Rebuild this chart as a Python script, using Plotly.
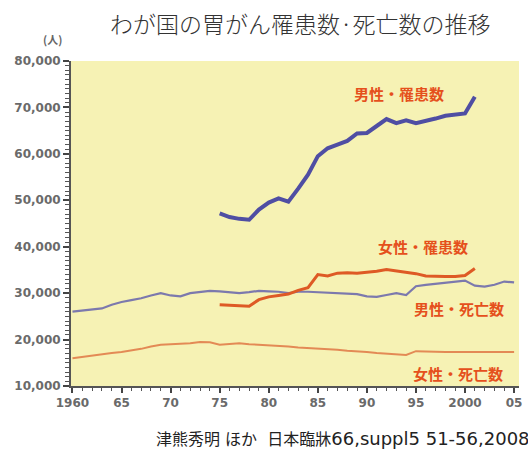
import plotly.graph_objects as go

years_all = list(range(1960, 2006))
years_inc = list(range(1975, 2002))

male_incidence = [47200, 46400, 46000, 45800, 48000, 49500, 50400, 49700, 52500, 55500,
                  59500, 61200, 62000, 62800, 64400, 64500, 66000, 67500, 66600, 67200,
                  66600, 67000, 67600, 68200, 68500, 68700, 72300]
female_incidence = [27500, 27400, 27200, 27200, 28600, 29200, 29500, 29800, 30600, 31200,
                    34000, 33700, 34300, 34400, 34300, 34500, 34700, 35100, 34800, 34600,
                    34200, 33700, 33600, 33600, 33600, 33800, 35300]
male_deaths = [26000, 26200, 26400, 26700, 27500, 28100, 28500, 28900, 29500, 30000,
               29500, 29300, 30000, 30300, 30500, 30400, 30200, 30000, 30200, 30500,
               30400, 30300, 30000, 30300, 30300, 30200, 30100, 30000, 29900, 29800,
               29300, 29200, 29600, 30000, 29600, 31500, 31800, 32000, 32300, 32500,
               32700, 31600, 31400, 31800, 32500, 32300]
female_deaths = [16000, 16300, 16600, 16900, 17100, 17300, 17600, 18000, 18500, 18900,
                 19000, 19100, 19200, 19500, 19400, 18900, 19000, 19200, 19000, 18900,
                 18800, 18600, 18500, 18300, 18200, 18100, 17900, 17800, 17600, 17500,
                 17300, 17100, 17000, 16800, 16700, 17500, 17500, 17400, 17300, 17300,
                 17200, 17200, 17200, 17200, 17300, 17300]

x_tickvals = [1960, 1965, 1970, 1975, 1980, 1985, 1990, 1995, 2000, 2005]
x_ticktext = ["1960", "65", "70", "75", "80", "85", "90", "95", "2000", "05"]

series_labels = ["男性・罹患数", "女性・罹患数", "男性・死亡数", "女性・死亡数"]
label_pos_x = [1993.3, 1995.7, 1999.4, 1999.3]
label_pos_y = [72900, 40000, 26600, 12800]

fig = go.Figure()
fig.add_trace(go.Scatter(x=years_all, y=male_deaths, mode="lines",
                         line=dict(color="#7c79ad", width=2.2), name=series_labels[2]))
fig.add_trace(go.Scatter(x=years_all, y=female_deaths, mode="lines",
                         line=dict(color="#e38a55", width=2), name=series_labels[3]))
fig.add_trace(go.Scatter(x=years_inc, y=female_incidence, mode="lines",
                         line=dict(color="#de5a25", width=3), name=series_labels[1]))
fig.add_trace(go.Scatter(x=years_inc, y=male_incidence, mode="lines",
                         line=dict(color="#4f4ea3", width=4), name=series_labels[0]))

label_font = dict(family="Noto Sans CJK JP", size=15, color="#e5501c", weight=700)
for txt, ax, ay in zip(series_labels, label_pos_x, label_pos_y):
    fig.add_annotation(x=ax, y=ay, text=txt, showarrow=False,
                       font=label_font, xref="x", yref="y")

fig.add_annotation(x=0.512, y=1.0, xref="paper", yref="paper", xanchor="center",
                   yanchor="middle", yshift=38, showarrow=False,
                   text="わが国の胃がん罹患数·死亡数の推移",
                   font=dict(family="Noto Sans CJK JP", size=23, color="#333333", weight=300))
fig.add_annotation(x=-0.042, y=1.0, xref="paper", yref="paper", xanchor="center",
                   yanchor="middle", yshift=22, showarrow=False, text="(人)",
                   font=dict(family="Noto Sans CJK JP", size=11, color="#666666", weight=700))
fig.add_annotation(x=(155 - 71) / 451, y=0.0, xref="paper", yref="paper", xanchor="left",
                   yanchor="middle", yshift=-52, showarrow=False,
                   text="津熊秀明 ほか\u00a0\u00a0日本臨牀<span style='font-size:18px'>66,suppl5 51-56,2008</span>",
                   font=dict(family="DejaVu Sans, Noto Sans CJK JP", size=16, color="#222222"))

tick_font = dict(family="DejaVu Sans", size=12, color="#6a6a6a", weight=700)
fig.update_layout(
    width=528, height=452,
    margin=dict(l=71, r=6, t=61, b=66),
    paper_bgcolor="white",
    plot_bgcolor="#f6f2b4",
    showlegend=False,
    xaxis=dict(range=[1959.85, 2005.5], tickmode="linear", tick0=1960, dtick=5,
               labelalias=dict(zip([str(v) for v in x_tickvals], x_ticktext)),
               showgrid=False, zeroline=False, showline=True, linecolor="#555555",
               linewidth=2, ticks="outside", ticklen=5, tickwidth=1.5, tickcolor="#444444",
               minor=dict(tickmode="linear", tick0=1960, dtick=1, ticks="outside",
                          ticklen=3, tickwidth=1.2, tickcolor="#555555", showgrid=False),
               tickfont=tick_font),
    yaxis=dict(range=[10000, 80000], tickmode="linear", tick0=10000, dtick=10000,
               tickformat=",",
               showgrid=False, zeroline=False, showline=True, linecolor="#555555",
               linewidth=2, ticks="outside", ticklen=6, tickwidth=1.5, tickcolor="#444444",
               minor=dict(tickmode="linear", tick0=10000, dtick=1000, ticks="outside",
                          ticklen=4, tickwidth=1.2, tickcolor="#555555", showgrid=False),
               tickfont=tick_font),
)

fig.write_html("out.html")
